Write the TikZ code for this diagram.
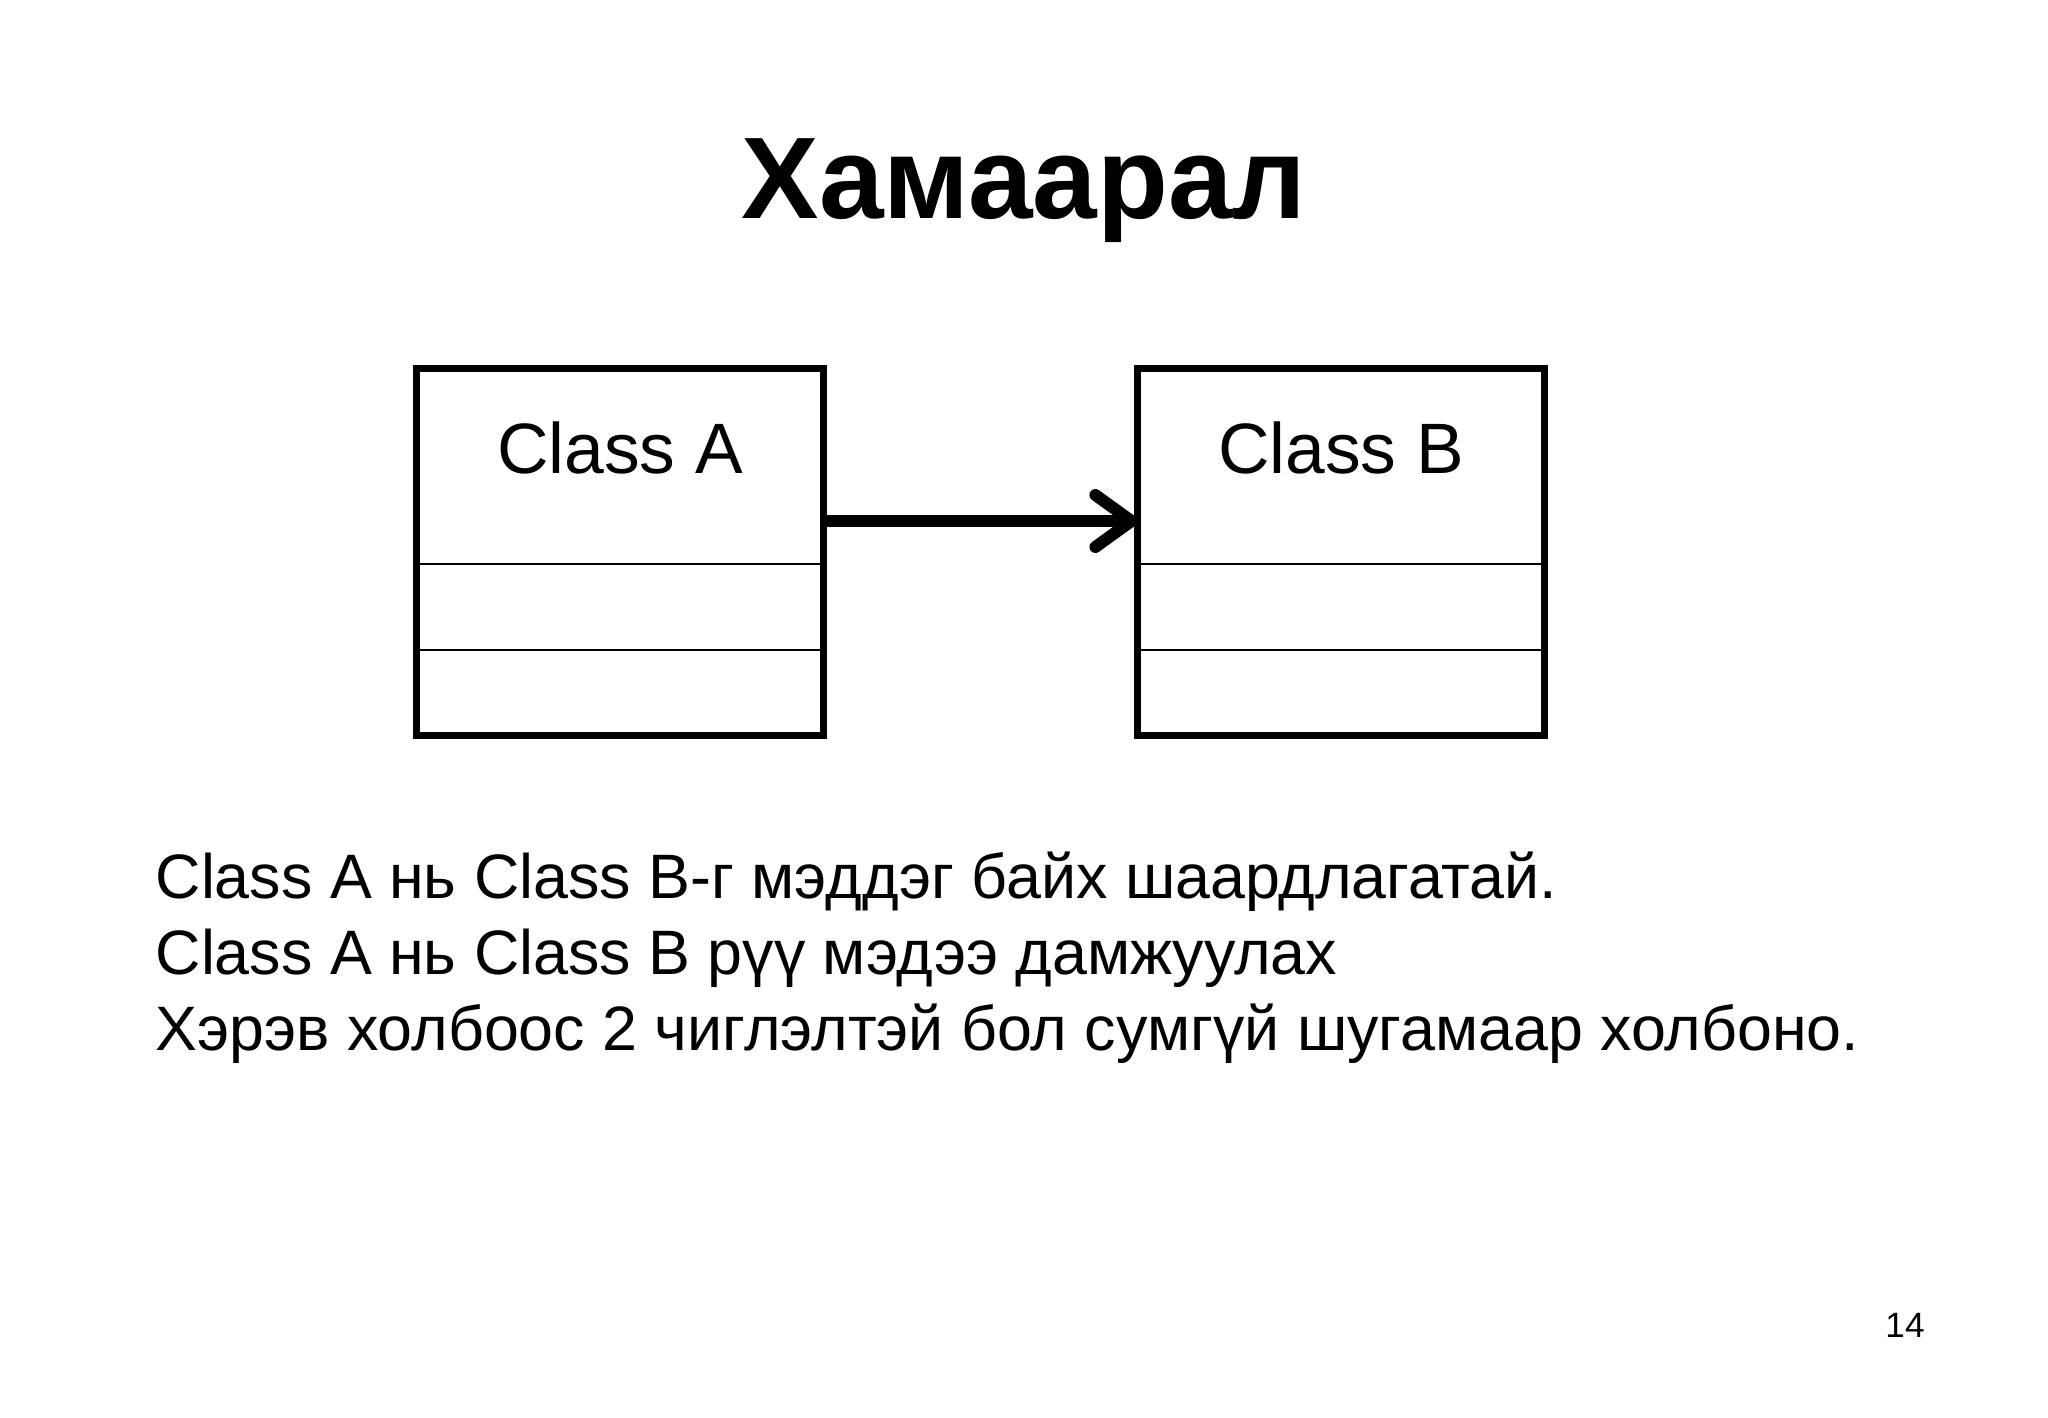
\documentclass[tikz,border=0pt]{standalone}
\usepackage{fontspec}
\setmainfont{Liberation Sans}
\usetikzlibrary{arrows.meta, positioning, calc}
\definecolor{inkblack}{HTML}{000000}

\tikzset{
  classbox/.style={draw=inkblack, line width=2pt, rectangle, inner sep=0pt, outer sep=0pt,
    minimum width=4.07cm, minimum height=3.67cm},
  classname/.style={inkblack, anchor=base, font=\fontsize{20.3}{24}\selectfont},
  divider/.style={inkblack, line width=0.55pt},
  assoc/.style={inkblack, line width=3.4pt, -{Straight Barb[length=0.36cm, width=0.52cm, round]}},
  bodyline/.style={inkblack, anchor=base west, inner sep=0pt, font=\fontsize{17.85}{21}\selectfont}
}

\begin{document}
\begin{tikzpicture}[x=0.01cm, y=-0.01cm]
  % Page frame
  \fill[white] (0,0) rectangle (2048,1418);
  \useasboundingbox (0,0) rectangle (2048,1418);

  % Title
  \node[inkblack, anchor=base, font=\fontsize{33}{33}\selectfont\bfseries] (title) at (1024,218) {Хамаарал};

  % Class boxes
  \node[classbox] (classA) at (620,552) {};
  \node[classbox] (classB) at (1341,552) {};
  \node[classname] (nameA) at ([yshift=-1.055cm]classA.north) {Class A};
  \node[classname] (nameB) at ([yshift=-1.055cm]classB.north) {Class B};

  % Compartments
  \foreach \cls in {classA, classB} {
    \draw[divider] ([yshift=-1.955cm]\cls.north west) -- ([yshift=-1.955cm]\cls.north east);
    \draw[divider] ([yshift=-2.815cm]\cls.north west) -- ([yshift=-2.815cm]\cls.north east);
  }

  % Association
  \coordinate (arrowy) at (0,521);
  \draw[assoc] (classA.east |- arrowy) -- (classB.west |- arrowy);

  % Explanation
  \foreach \i/\txt in {1/Class A нь Class B-г мэддэг байх шаардлагатай.,
                       2/Class A нь Class B рүү мэдээ дамжуулах,
                       3/Хэрэв холбоос 2 чиглэлтэй бол сумгүй шугамаар холбоно.} {
    \node[bodyline] (line\i) at (155,822+76*\i) {\txt};
  }

  % Page number
  \node[inkblack, anchor=base, font=\fontsize{10}{10}\selectfont] (pagenum) at (1905,1337) {14};
\end{tikzpicture}
\end{document}
